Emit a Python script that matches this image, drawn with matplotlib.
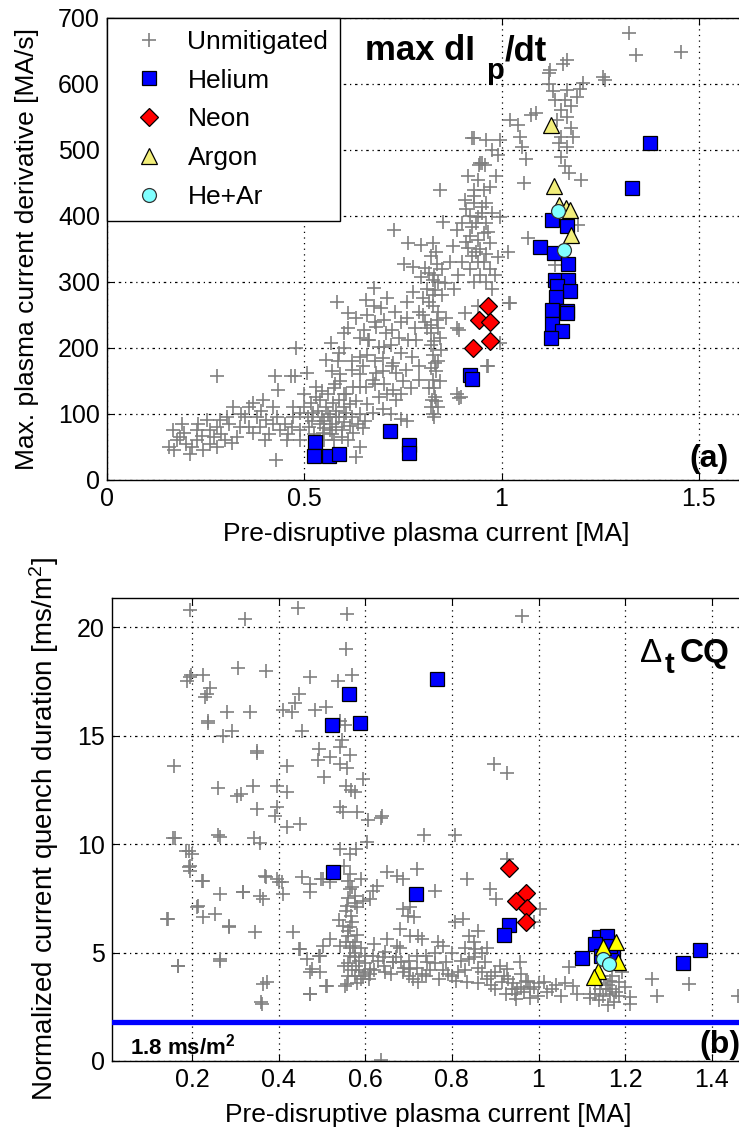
import numpy as np
import matplotlib
matplotlib.use("Agg")
import matplotlib.pyplot as plt

plt.rcParams['font.family'] = ['Liberation Sans', 'DejaVu Sans']
plt.rcParams['mathtext.fontset'] = 'custom'
plt.rcParams['mathtext.rm'] = 'Liberation Sans'
plt.rcParams['mathtext.bf'] = 'Liberation Sans:bold'
plt.rcParams['mathtext.it'] = 'Liberation Sans:italic'

# ---------------- panel (a): max dIp/dt [MA/s] vs Ip [MA] ----------------
unmit_a = np.array([
    (1.323, 678), (1.341, 644), (1.456, 648), (1.166, 637), (1.155, 631), (1.124, 621), (1.119, 616),
    (1.207, 601), (1.200, 593), (1.258, 611), (1.263, 606), (1.166, 591), (1.161, 576), (1.176, 566),
    (1.135, 576), (1.088, 556), (1.074, 553), (1.022, 545), (1.042, 538), (1.176, 533), (1.150, 520),
    (1.166, 505), (1.145, 510), (0.929, 518), (0.960, 515), (0.995, 515), (1.047, 520), (1.052, 505),
    (0.975, 500), (0.990, 492), (1.063, 487), (0.950, 480), (0.944, 477), (1.171, 465), (1.202, 455),
    (1.058, 450), (0.985, 460), (0.970, 444), (0.955, 439), (0.845, 440), (0.908, 424), (0.929, 419),
    (0.950, 414), (0.975, 404), (0.940, 399), (0.924, 384), (0.955, 374), (0.970, 359), (0.940, 364),
    (0.995, 399), (0.851, 391), (0.888, 379), (0.727, 379), (0.764, 359), (0.795, 356), (0.826, 359),
    (0.878, 354), (0.914, 351), (0.960, 343), (0.990, 338), (1.016, 346), (0.754, 328), (0.775, 323),
    (0.806, 321), (0.836, 328), (0.795, 308), (0.826, 303), (0.856, 298), (0.816, 313), (0.831, 288),
    (0.826, 263), (0.836, 242), (0.821, 222), (0.846, 197), (0.831, 177), (0.826, 151), (0.831, 126),
    (0.888, 131), (0.893, 124), (1.022, 268), (0.995, 207), (0.965, 172), (0.888, 230), (0.908, 253),
    (0.940, 263), (0.584, 270), (0.610, 253), (0.657, 273), (0.677, 263), (0.702, 242), (0.723, 227),
    (0.652, 227), (0.600, 222), (0.568, 207), (0.662, 212), (0.702, 202), (0.744, 192), (0.764, 212),
    (0.723, 172), (0.682, 162), (0.620, 167), (0.578, 146), (0.641, 141), (0.702, 146), (0.744, 131),
    (0.507, 162), (0.476, 157), (0.425, 157), (0.466, 157), (0.479, 200), (0.280, 157), (0.518, 117),
    (0.677, 291), (0.589, 192), (0.556, 182), (0.434, 136), (0.500, 131),
    (0.539, 121), (0.556, 111), (0.589, 121), (0.606, 101), (0.581, 81), (0.547, 71), (0.623, 71),
    (0.640, 50), (0.631, 35), (0.513, 81), (0.488, 76), (0.471, 96), (0.522, 101), (0.564, 96),
    (0.589, 96), (0.572, 116), (0.606, 131), (0.673, 101), (0.745, 93), (0.623, 141), (0.530, 141),
    (0.550, 90), (0.570, 85), (0.560, 100), (0.580, 105), (0.600, 88), (0.535, 105), (0.565, 75),
    (0.595, 75), (0.540, 85), (0.520, 90), (0.575, 60), (0.610, 60), (0.550, 60),
    (0.530, 125), (0.545, 135), (0.560, 130), (0.575, 140), (0.590, 150), (0.600, 110), (0.615, 115),
    (0.620, 95), (0.635, 85), (0.650, 78), (0.615, 82), (0.595, 65), (0.580, 95), (0.570, 70),
    (0.545, 95), (0.525, 70), (0.510, 95), (0.500, 110), (0.550, 78), (0.600, 130), (0.630, 120),
    (0.660, 115), (0.655, 90), (0.640, 100), (0.700, 108), (0.690, 125), (0.720, 100), (0.760, 90),
    (0.156, 50), (0.194, 71), (0.227, 61), (0.261, 76), (0.244, 45), (0.286, 91), (0.320, 111),
    (0.370, 116), (0.396, 121), (0.404, 91), (0.370, 71), (0.316, 56), (0.438, 76), (0.455, 61),
    (0.429, 30), (0.488, 101), (0.177, 61), (0.210, 40), (0.278, 50), (0.337, 81), (0.387, 81),
    (0.421, 111), (0.471, 111), (0.303, 96), (0.253, 91), (0.227, 76), (0.168, 76), (0.200, 55),
    (0.240, 66), (0.290, 70), (0.350, 95), (0.420, 85), (0.460, 70), (0.400, 60), (0.330, 65),
    (0.190, 85), (0.260, 55), (0.170, 45), (0.185, 65), (0.215, 50), (0.230, 85), (0.270, 65),
    (0.280, 80), (0.300, 60), (0.310, 85), (0.340, 100), (0.360, 80), (0.380, 95), (0.410, 70),
    (0.430, 95), (0.450, 85), (0.470, 80), (0.490, 60), (0.360, 110), (0.390, 105),
    (0.724, 177), (0.732, 162), (0.758, 167), (0.724, 136), (0.732, 121), (0.673, 152), (0.657, 141),
    (0.648, 172), (0.640, 187), (0.690, 202), (0.665, 212), (0.682, 232), (0.707, 222), (0.783, 212),
    (0.774, 187), (0.791, 172), (0.791, 152), (0.891, 227), (0.896, 126), (0.963, 172), (0.824, 121),
    (0.610, 230), (0.630, 245), (0.640, 215), (0.660, 250), (0.680, 240), (0.695, 260), (0.710, 275),
    (0.730, 255), (0.745, 240), (0.760, 270), (0.775, 285), (0.790, 255), (0.800, 275), (0.805, 240),
    (0.780, 230), (0.760, 245), (0.740, 215), (0.720, 205), (0.700, 185), (0.680, 180), (0.660, 190),
    (0.640, 160), (0.620, 180), (0.600, 200), (0.585, 180), (0.570, 165), (0.590, 160), (0.750, 150),
    (0.770, 140), (0.700, 165), (0.710, 130), (0.680, 145),
    (0.925, 518), (0.946, 480), (0.959, 478), (1.068, 367), (1.136, 326), (1.194, 387), (1.018, 268),
    (0.984, 311), (0.815, 270), (0.840, 255), (0.820, 235), (0.845, 215), (0.820, 205), (0.835, 165),
    (0.815, 140), (0.840, 110), (0.830, 95), (0.850, 280), (0.800, 250), (0.860, 245),
    (0.810, 290), (0.825, 280), (0.840, 300), (0.830, 310), (0.850, 320), (0.820, 340), (0.835, 345),
    (0.810, 230), (0.840, 230), (0.825, 190), (0.830, 210), (0.820, 170), (0.840, 180), (0.830, 140),
    (0.845, 150), (0.820, 110), (0.835, 120), (0.825, 100),
    (0.930, 440), (0.915, 460), (0.940, 455), (0.920, 400), (0.960, 390), (0.935, 345), (0.900, 330),
    (0.945, 310), (0.975, 290), (0.910, 410), (0.930, 430), (0.920, 370), (0.935, 390), (0.950, 405),
    (0.960, 420), (0.945, 350), (0.925, 340), (0.910, 360), (0.900, 390), (0.965, 375), (0.955, 330),
    (0.940, 330), (0.930, 300), (0.920, 320), (0.880, 290), (0.890, 310), (0.870, 330), (0.960, 300),
    (0.970, 320), (1.130, 590), (1.150, 560), (1.140, 545), (1.165, 550), (1.180, 520), (1.150, 490),
    (1.160, 475), (1.120, 600), (1.190, 580),
])
helium_a = np.array([
    (1.375, 510), (1.330, 443), (1.129, 394), (1.167, 385), (1.098, 353), (1.134, 344), (1.169, 327),
    (1.136, 303), (1.169, 303), (1.141, 294), (1.174, 286), (1.139, 277), (1.129, 258), (1.167, 256),
    (1.167, 253), (1.129, 236), (1.154, 226), (1.126, 215), (0.919, 159), (0.924, 153),
    (0.528, 58), (0.525, 36), (0.563, 36), (0.588, 39), (0.717, 74), (0.765, 53), (0.765, 41),
])
neon_a = np.array([(0.965, 264), (0.944, 242), (0.970, 240), (0.970, 210), (0.927, 200)])
argon_a = np.array([(1.126, 538), (1.134, 445), (1.146, 417), (1.164, 412), (1.174, 409), (1.177, 371)])
hear_a = np.array([(1.144, 407), (1.159, 348)])

# ---------------- panel (b): normalized CQ duration [ms/m^2] vs Ip [MA] ----------------
unmit_b = np.array([
    (0.195, 20.8), (0.322, 20.4), (0.445, 20.9), (0.557, 20.6), (0.555, 19.0), (0.188, 17.5),
    (0.197, 17.8), (0.226, 17.8), (0.241, 17.2), (0.234, 16.9), (0.230, 16.8), (0.307, 18.1),
    (0.371, 18.0), (0.472, 17.7), (0.536, 17.5), (0.569, 17.8), (0.446, 16.9), (0.438, 16.5),
    (0.411, 16.2), (0.430, 16.1), (0.280, 16.1), (0.334, 16.1), (0.484, 16.2), (0.509, 16.3),
    (0.237, 15.7), (0.272, 15.0), (0.291, 15.2), (0.453, 15.2), (0.542, 15.7), (0.553, 15.5),
    (0.545, 14.8), (0.542, 14.5), (0.350, 14.3), (0.494, 14.4), (0.518, 14.0), (0.491, 13.9),
    (0.564, 14.1), (0.541, 13.7), (0.557, 13.5), (0.157, 13.6), (0.418, 13.6), (0.505, 13.1),
    (0.595, 13.0), (0.260, 12.6), (0.303, 12.2), (0.314, 12.3), (0.341, 12.7), (0.395, 12.7),
    (0.418, 12.4), (0.556, 12.7), (0.568, 12.5), (0.576, 12.4), (0.349, 11.6), (0.395, 11.7),
    (0.391, 11.3), (0.542, 11.7), (0.549, 11.5), (0.580, 11.5), (0.607, 11.1), (0.638, 11.3),
    (0.449, 10.95), (0.418, 10.8), (0.160, 10.3), (0.264, 10.35), (0.357, 10.05), (0.192, 9.7),
    (0.200, 9.54), (0.192, 8.93), (0.195, 8.77), (0.226, 8.31), (0.264, 7.7), (0.318, 7.77),
    (0.357, 7.62), (0.364, 7.47), (0.371, 8.47), (0.395, 8.39), (0.407, 8.24), (0.453, 8.47),
    (0.473, 8.16), (0.497, 8.39), (0.410, 7.7), (0.473, 7.77), (0.211, 7.08), (0.226, 6.62),
    (0.253, 6.77), (0.145, 6.54), (0.284, 6.16), (0.345, 5.93), (0.434, 5.93), (0.446, 5.16),
    (0.465, 4.7), (0.492, 4.85), (0.495, 4.09), (0.473, 4.09), (0.168, 4.39), (0.264, 4.62),
    (0.372, 3.63), (0.360, 2.7), (0.472, 3.09), (0.511, 3.47), (0.557, 3.55),
    (0.565, 7.93), (0.576, 7.62), (0.557, 7.16), (0.568, 6.7), (0.549, 6.24), (0.561, 5.77),
    (0.572, 5.31), (0.565, 4.85), (0.579, 4.39), (0.576, 3.93), (0.595, 3.93), (0.542, 5.31),
    (0.518, 5.62), (0.502, 5.31), (0.611, 4.24), (0.618, 4.85), (0.642, 4.39), (0.665, 4.55),
    (0.688, 4.09), (0.711, 3.78), (0.672, 5.31), (0.650, 5.62), (0.680, 6.08), (0.703, 5.77),
    (0.730, 5.62), (0.719, 4.85), (0.742, 4.55), (0.611, 7.47), (0.626, 8.08), (0.650, 8.7),
    (0.672, 8.54), (0.688, 8.39), (0.719, 8.85), (0.688, 7.0), (0.699, 6.7), (0.595, 7.39),
    (0.618, 7.85), (0.565, 9.54), (0.579, 9.77), (0.603, 10.08), (0.542, 9.77), (0.518, 8.24),
    (0.502, 8.39), (0.560, 6.0), (0.570, 6.4), (0.555, 5.5), (0.575, 5.0), (0.560, 4.5),
    (0.585, 4.6), (0.570, 4.2), (0.600, 4.5), (0.590, 5.2), (0.555, 6.9), (0.580, 7.1), (0.560, 8.3),
    (0.565, 8.6), (0.570, 8.0), (0.575, 7.3), (0.560, 7.5), (0.565, 6.2), (0.580, 5.8), (0.575, 5.5),
    (0.565, 5.2), (0.585, 4.2), (0.575, 4.8), (0.590, 3.8), (0.600, 4.1), (0.610, 4.0), (0.580, 3.6),
    (0.560, 3.9), (0.550, 4.4), (0.550, 9.0), (0.590, 8.4), (0.540, 6.5),
    (0.962, 20.5), (0.898, 13.7), (0.928, 13.3), (0.736, 10.4), (0.806, 10.43), (0.637, 11.2),
    (0.834, 8.39), (0.760, 7.85), (0.703, 7.08), (0.712, 6.62), (0.887, 7.93), (0.901, 7.47),
    (0.928, 9.3), (1.003, 7.0), (0.990, 6.39), (0.722, 5.77), (0.768, 5.47), (0.740, 4.85),
    (0.787, 4.55), (0.815, 4.09), (0.834, 3.63), (0.806, 6.39), (0.825, 6.54), (0.839, 5.77),
    (0.853, 5.16), (0.876, 4.55), (0.891, 3.93), (0.915, 3.63), (0.938, 3.32), (0.966, 3.17),
    (0.999, 3.01), (0.928, 4.24), (0.958, 4.55), (0.976, 3.63), (0.947, 2.86), (1.013, 3.63),
    (1.032, 3.32), (1.051, 3.01), (1.079, 3.47), (1.070, 4.32), (1.118, 3.09), (1.141, 3.32),
    (1.165, 3.09), (1.175, 2.7), (1.187, 3.63), (1.211, 2.93), (1.263, 3.78), (1.273, 3.01),
    (1.348, 3.55), (1.460, 3.01), (1.145, 3.93), (1.192, 4.09), (1.211, 2.63),
    (0.599, 4.85), (0.646, 5.01), (0.665, 4.55), (0.703, 4.24), (0.646, 4.09), (0.608, 3.78),
    (0.722, 3.63), (0.683, 4.55), (0.449, 5.16), (0.495, 4.85), (0.477, 4.24), (0.510, 3.47),
    (0.472, 3.09), (0.552, 3.47), (0.364, 3.55), (0.362, 2.63), (0.265, 4.7), (0.168, 4.39),
    (0.637, 0.05), (0.237, 15.6), (0.349, 14.2), (0.194, 17.7), (0.156, 10.3), (0.185, 9.69),
    (0.194, 9.0), (0.222, 8.31), (0.260, 10.4), (0.343, 10.3), (0.368, 8.54), (0.401, 8.24),
    (0.317, 7.77), (0.213, 7.16), (0.142, 6.54), (0.286, 6.21),
    (0.780, 4.2), (0.800, 3.9), (0.820, 4.6), (0.860, 4.3), (0.880, 3.8), (0.900, 4.1), (0.920, 3.9),
    (0.940, 3.6), (0.960, 3.4), (0.980, 3.3), (1.000, 3.6), (0.870, 5.0), (0.850, 4.8), (0.760, 4.5),
    (0.740, 3.9), (0.700, 4.6), (0.680, 5.2), (0.640, 4.8), (0.620, 5.4), (1.160, 3.5), (1.170, 3.3),
    (1.150, 3.0), (1.130, 3.5), (1.140, 2.8), (1.060, 3.6), (1.090, 3.1),
    (0.620, 4.2), (0.630, 4.6), (0.660, 4.0), (0.670, 4.8), (0.690, 4.3), (0.700, 3.9), (0.720, 4.3),
    (0.730, 4.0), (0.750, 4.2), (0.770, 3.8), (0.790, 4.0), (0.810, 3.7), (0.830, 4.2), (0.840, 4.7),
    (0.860, 3.6), (0.870, 4.1), (0.890, 3.5), (0.900, 3.3), (0.910, 4.4), (0.930, 3.8), (0.950, 3.3),
    (0.970, 3.7), (0.990, 3.4), (1.020, 3.2), (1.040, 3.5), (0.850, 5.5), (0.860, 6.0), (0.830, 5.2),
    (0.880, 5.2), (0.800, 5.0), (0.780, 5.3), (0.760, 5.0), (0.960, 4.0), (0.980, 2.9), (0.945, 3.1),
    (0.925, 3.1), (1.130, 3.1), (1.145, 3.6), (1.155, 3.3), (1.165, 3.7), (1.180, 3.2), (1.120, 2.9),
    (1.160, 2.6), (1.170, 3.9), (1.185, 3.0), (1.200, 3.4),
])
helium_b = np.array([
    (0.765, 17.6), (0.563, 16.9), (0.524, 15.5), (0.588, 15.6), (0.525, 8.7), (0.718, 7.7),
    (0.931, 6.27), (0.921, 5.8), (1.100, 4.73), (1.333, 4.5), (1.372, 5.1), (1.140, 5.7),
    (1.159, 5.77), (1.131, 5.39), (1.173, 5.0), (1.164, 5.31), (1.145, 4.85),
])
neon_b = np.array([(0.931, 8.88), (0.947, 7.39), (0.971, 7.74), (0.973, 7.05), (0.971, 6.39)])
argon_b = np.array([(1.180, 5.47), (1.150, 5.24), (1.184, 4.55), (1.138, 4.16), (1.127, 3.86)])
hear_b = np.array([(1.150, 4.7), (1.163, 4.47)])
limit_b = 1.8

gray = '#808080'
FS = 18


def style_axes(ax):
    ax.tick_params(direction='in', top=True, right=True, length=5, width=0.8, labelsize=FS, pad=5)
    ax.grid(False)
    for sp in ax.spines.values():
        sp.set_linewidth(1.0)
    for t in ax.get_xticks():
        ax.axvline(t, color='k', lw=0.9, ls=(0, (1, 3.5)), zorder=0.5)
    for t in ax.get_yticks():
        ax.axhline(t, color='k', lw=0.9, ls=(0, (2, 3, 1, 3)), zorder=0.5)


def draw(ax, unmit, he, ne, ar, hear, tri_color):
    ax.plot(unmit[:, 0], unmit[:, 1], '+', color=gray, ms=10.5, mew=1.2, label='Unmitigated', zorder=2)
    ax.plot(he[:, 0], he[:, 1], 's', mfc='#0000ff', mec='k', ms=10, mew=0.9, label='Helium', zorder=3)
    ax.plot(ne[:, 0], ne[:, 1], 'D', mfc='#ff0000', mec='k', ms=9, mew=0.9, label='Neon', zorder=4)
    ax.plot(ar[:, 0], ar[:, 1], '^', mfc=tri_color, mec='k', ms=11, mew=0.9, label='Argon', zorder=5)
    ax.plot(hear[:, 0], hear[:, 1], 'o', mfc='#80ffff', mec='#333333', ms=10, mew=0.9, label='He+Ar', zorder=6)


fig = plt.figure(figsize=(7.39, 11.39), dpi=100)

# panel (a)
ax1 = fig.add_axes([0.1448, 0.5786, 0.8633, 0.4056])
draw(ax1, unmit_a, helium_a, neon_a, argon_a, hear_a, '#f2ee7a')
ax1.set_xlim(0, 1.617)
ax1.set_ylim(0, 700)
ax1.set_xticks([0, 0.5, 1, 1.5])
ax1.set_xticklabels(['0', '0.5', '1', '1.5'])
ax1.set_yticks(np.arange(0, 701, 100))
style_axes(ax1)
ax1.set_xlabel('Pre-disruptive plasma current [MA]', fontsize=19, labelpad=8)
ax1.set_ylabel('Max. plasma current derivative [MA/s]', fontsize=19, labelpad=14)
leg = ax1.legend(loc='upper left', fontsize=19, frameon=True, fancybox=False, borderaxespad=0,
                 handlelength=2.3, handletextpad=0.3, labelspacing=0.56, borderpad=0.45)
leg.get_frame().set_edgecolor('k')
leg.get_frame().set_linewidth(1.0)
leg.get_frame().set_alpha(1)
tr1 = ax1.transAxes
ax1.text(0.404, 0.909, 'max dI', transform=tr1, fontsize=25, fontweight='bold', va='baseline', ha='left')
ax1.text(0.594, 0.868, 'p', transform=tr1, fontsize=21, fontweight='bold', va='baseline', ha='left')
ax1.text(0.624, 0.909, '/dt', transform=tr1, fontsize=25, fontweight='bold', va='baseline', ha='left')
ax1.text(0.913, 0.012, '(a)', transform=tr1, fontsize=23, fontweight='bold', va='bottom', ha='left')

# panel (b)
ax2 = fig.add_axes([0.1516, 0.0685, 0.8566, 0.4065])
draw(ax2, unmit_b, helium_b, neon_b, argon_b, hear_b, '#ffff00')
ax2.axhline(limit_b, color='#0000ff', lw=3.8, zorder=7)
ax2.set_xlim(0.015, 1.477)
ax2.set_ylim(0, 21.35)
ax2.set_xticks([0.2, 0.4, 0.6, 0.8, 1.0, 1.2, 1.4])
ax2.set_xticklabels(['0.2', '0.4', '0.6', '0.8', '1', '1.2', '1.4'])
ax2.set_yticks([0, 5, 10, 15, 20])
style_axes(ax2)
ax2.set_xlabel('Pre-disruptive plasma current [MA]', fontsize=19, labelpad=8)
ax2.set_ylabel('Normalized current quench duration [ms/m$^2$]', fontsize=20, labelpad=12)
tr2 = ax2.transAxes
ax2.text(0.834, 0.862, '\u0394', transform=tr2, fontsize=24, va='baseline', ha='left')
ax2.text(0.873, 0.838, 't', transform=tr2, fontsize=21, fontweight='bold', va='baseline', ha='left')
ax2.text(0.897, 0.862, 'CQ', transform=tr2, fontsize=24, fontweight='bold', va='baseline', ha='left')
ax2.text(0.928, 0.003, '(b)', transform=tr2, fontsize=23, fontweight='bold', va='bottom', ha='left')
ax2.text(0.028, 0.013, r'$\mathbf{1.8\ ms/m^2}$', transform=tr2, fontsize=16, va='baseline', ha='left')

fig.savefig('out.png', dpi=100)
